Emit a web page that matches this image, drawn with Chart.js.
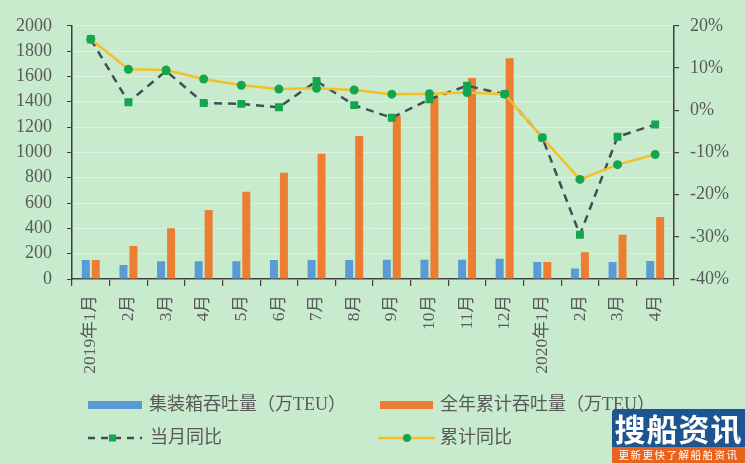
<!DOCTYPE html>
<html>
<head>
<meta charset="utf-8">
<script src="https://cdn.jsdelivr.net/npm/chart.js@4/dist/chart.umd.min.js"></script>
<style>
  html, body { margin: 0; padding: 0; background: #C7EBCC; }
  #wrap { position: relative; width: 745px; height: 464px; overflow: hidden; }
  #c { position: absolute; left: 0; top: 0; }
  #logo { position: absolute; left: 612px; top: 409px; width: 133px; height: 55px; border-radius: 4px 0 0 0; overflow: hidden; }
  #logo .top { height: 38px; background: #1E5590; color: #fff; font-family: "Noto Sans CJK SC", sans-serif; font-weight: 700; font-size: 31px; line-height: 38px; text-align: center; letter-spacing: 1px; white-space: nowrap; }
  #logo .bot { height: 16px; background: #E8641E; color: #fff; font-family: "Noto Sans CJK SC", sans-serif; font-size: 10.5px; line-height: 16px; text-align: center; letter-spacing: 1.5px; white-space: nowrap; }
</style>
</head>
<body>
<div id="wrap">
  <canvas id="c" width="745" height="464"></canvas>
  <div id="logo"><div class="top">搜船资讯</div><div class="bot">更新更快了解船舶资讯</div></div>
</div>
<script>
const categories = ["2019年1月","2月","3月","4月","5月","6月","7月","8月","9月","10月","11月","12月","2020年1月","2月","3月","4月"];
const monthlyTEU = [150, 110, 140, 140, 140, 150, 150, 150, 152, 152, 152, 160, 135, 83, 135, 142];
const cumulativeTEU = [150, 260, 400, 545, 690, 840, 990, 1130, 1292, 1432, 1588, 1743, 135, 212, 349, 490];
const monthlyYoY = [16.8, 1.9, 9.3, 1.7, 1.5, 0.7, 6.9, 1.2, -1.8, 2.6, 5.8, 3.8, -6.5, -29.5, -6.3, -3.4];
const cumulativeYoY = [16.8, 9.7, 9.5, 7.4, 5.9, 5.0, 5.2, 4.8, 3.8, 3.9, 4.2, 3.8, -6.5, -16.4, -12.9, -10.5];
const leftTicks = { min: 0, max: 2000, step: 200 };
const rightTicks = { min: -40, max: 20, step: 10 };
const seriesNames = ["集装箱吞吐量（万TEU）", "全年累计吞吐量（万TEU）", "当月同比", "累计同比"];

const FONT = '"Liberation Serif", "Noto Sans CJK SC", serif';
const LEG_FONT = '"Liberation Serif", "Noto Sans CJK SC", serif';
const TXT = '#595959';
const AX = '#404040';
const BLUE = '#5B9BD5', ORANGE = '#ED7D31', DASH = '#434D57', GOLD = '#F5BF2A', GREEN = '#13A64E';

const bgPlugin = {
  id: 'bg',
  beforeDraw(chart) {
    const ctx = chart.ctx;
    ctx.save();
    ctx.fillStyle = '#C7EBCC';
    ctx.fillRect(0, 0, chart.width, chart.height);
    ctx.restore();
  }
};

const legendPlugin = {
  id: 'customLegend',
  afterDraw(chart) {
    const ctx = chart.ctx;
    ctx.save();
    ctx.font = '18px ' + LEG_FONT;
    ctx.fillStyle = TXT;
    ctx.textBaseline = 'middle';
    ctx.textAlign = 'left';
    const y1 = 405, y2 = 438;
    ctx.fillStyle = BLUE; ctx.fillRect(88, 401, 54, 8);
    ctx.fillStyle = ORANGE; ctx.fillRect(380, 401, 53, 8);
    ctx.fillStyle = TXT;
    ctx.fillText(seriesNames[0], 149, y1);
    ctx.fillText(seriesNames[1], 440, y1);
    ctx.strokeStyle = DASH; ctx.lineWidth = 2.5; ctx.setLineDash([7, 6]); ctx.lineDashOffset = 0;
    ctx.beginPath(); ctx.moveTo(88, y2); ctx.lineTo(142, y2); ctx.stroke();
    ctx.setLineDash([]);
    ctx.fillStyle = GREEN; ctx.fillRect(109, y2 - 3.5, 7, 7);
    ctx.strokeStyle = GOLD; ctx.lineWidth = 2.5;
    ctx.beginPath(); ctx.moveTo(378, y2); ctx.lineTo(435, y2); ctx.stroke();
    ctx.fillStyle = GREEN; ctx.beginPath(); ctx.arc(407, y2, 4, 0, Math.PI * 2); ctx.fill();
    ctx.fillStyle = TXT;
    ctx.fillText(seriesNames[2], 150, y2);
    ctx.fillText(seriesNames[3], 440, y2);
    ctx.restore();
  }
};

new Chart(document.getElementById('c'), {
  data: {
    labels: categories,
    datasets: [
      { type: 'bar', label: seriesNames[0], data: monthlyTEU, backgroundColor: BLUE, yAxisID: 'y', order: 3,
        categoryPercentage: 0.53, barPercentage: 0.8 },
      { type: 'bar', label: seriesNames[1], data: cumulativeTEU, backgroundColor: ORANGE, yAxisID: 'y', order: 3,
        categoryPercentage: 0.53, barPercentage: 0.8 },
      { type: 'line', label: seriesNames[2], data: monthlyYoY, yAxisID: 'y1', order: 2,
        borderColor: DASH, borderWidth: 2.5, borderDash: [8, 6], tension: 0, fill: false,
        pointStyle: 'rect', pointRadius: 5.6, pointBackgroundColor: GREEN, pointBorderColor: GREEN, pointBorderWidth: 0 },
      { type: 'line', label: seriesNames[3], data: cumulativeYoY, yAxisID: 'y1', order: 1,
        borderColor: GOLD, borderWidth: 2.5, tension: 0, fill: false,
        pointStyle: 'circle', pointRadius: 4.5, pointBackgroundColor: GREEN, pointBorderColor: GREEN, pointBorderWidth: 0 }
    ]
  },
  options: {
    responsive: false,
    animation: false,
    devicePixelRatio: 1,
    layout: { padding: { top: 22.5, left: 0, right: 0, bottom: 0 } },
    plugins: { legend: { display: false }, tooltip: { enabled: false }, title: { display: false } },
    scales: {
      x: {
        type: 'category',
        offset: true,
        grid: { offset: true, drawOnChartArea: false, color: AX, tickLength: 7, lineWidth: 1.2 },
        border: { color: AX, width: 1.5 },
        ticks: { autoSkip: false, minRotation: 90, maxRotation: 90, color: TXT, padding: 9,
                 font: { family: FONT, size: 17.5 } },
        afterFit(scale) { scale.height = 185; }
      },
      y: {
        position: 'left',
        min: leftTicks.min, max: leftTicks.max,
        ticks: { stepSize: leftTicks.step, color: TXT, padding: 15, font: { family: FONT, size: 18 },
                 callback: v => String(v) },
        grid: { color: 'rgba(255,255,255,0.35)', lineWidth: 1, tickColor: AX, tickLength: 5 },
        border: { color: AX, width: 1.5 },
        afterFit(scale) { scale.width = 72; }
      },
      y1: {
        position: 'right',
        min: rightTicks.min, max: rightTicks.max,
        ticks: { stepSize: rightTicks.step, color: TXT, padding: 11, font: { family: FONT, size: 18 },
                 callback: v => v + '%' },
        grid: { drawOnChartArea: false, color: AX, tickLength: 5, lineWidth: 1.2 },
        border: { color: AX, width: 1.5 },
        afterFit(scale) { scale.width = 71; }
      }
    }
  },
  plugins: [bgPlugin, legendPlugin]
});
</script>
</body>
</html>
